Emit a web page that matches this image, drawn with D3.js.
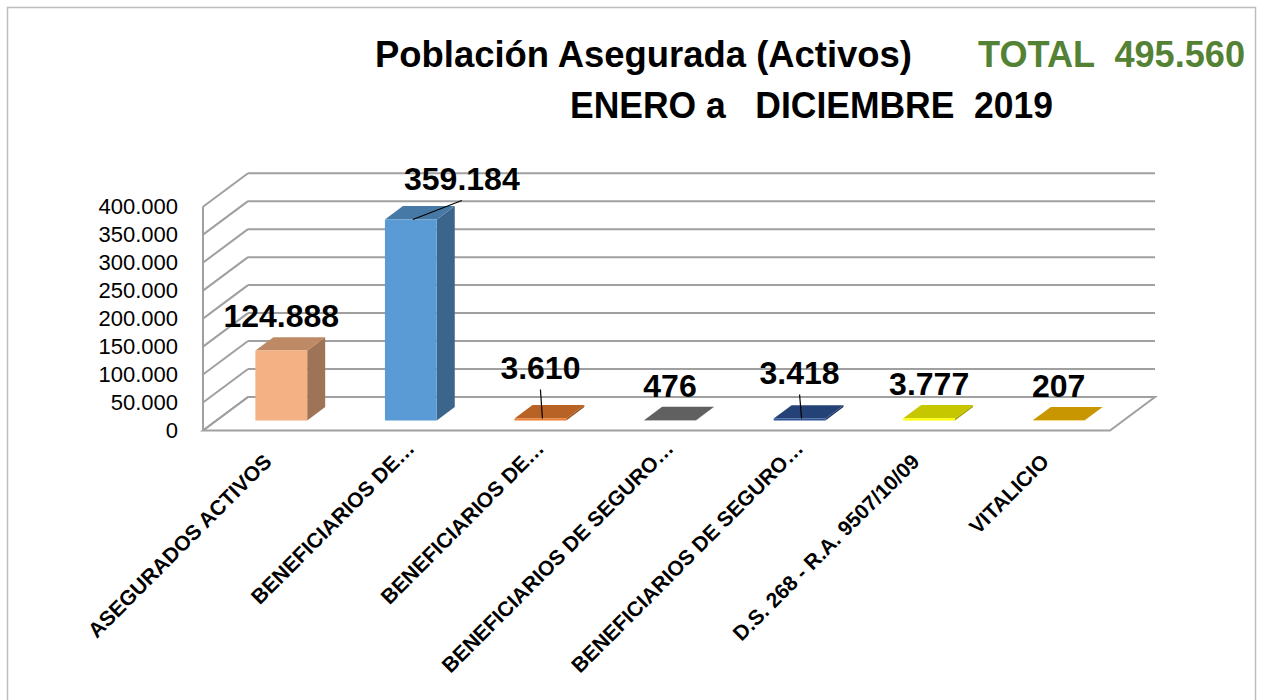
<!DOCTYPE html>
<html>
<head>
<meta charset="utf-8">
<script src="https://cdn.jsdelivr.net/npm/d3@7"></script>
<style>
  body { margin: 0; background: #fff; }
  svg { display: block; }
</style>
</head>
<body>
<svg id="chart"></svg>
<script>
// chart data
var categories = ["ASEGURADOS ACTIVOS", "BENEFICIARIOS DE…", "BENEFICIARIOS DE…",
    "BENEFICIARIOS DE SEGURO…", "BENEFICIARIOS DE SEGURO…", "D.S. 268 - R.A. 9507/10/09", "VITALICIO"];
var values = [124888, 359184, 3610, 476, 3418, 3777, 207];
var barColors = ["#F4B183", "#5B9BD5", "#ED7D31", "#7B7B7B", "#2F5597", "#FFFF00", "#FFC000"];
var yTicks = [0, 50000, 100000, 150000, 200000, 250000, 300000, 350000, 400000];
var titleLine1 = "Población Asegurada (Activos)";
var titleLine2 = "ENERO a   DICIEMBRE  2019";

var svgWidth = 1263, svgHeight = 700;
var left = 203, right = 1110, base = 430.5, top400 = 206.7;
var depthX = 45, depthY = 33.5;   // 3d offset of the back wall
var z0 = 0.3, z1 = 0.7;           // depth range of the bars
var font = "'Liberation Sans', Arial, sans-serif";
var gridColor = "#a0a0a0";

// labels moved by hand in the original (with leader line)
var labelNudge = { 1: [51, -6], 2: [0, -16], 4: [0, -11] };

var fmt = d3.formatLocale({ decimal: ",", thousands: ".", grouping: [3], currency: ["", ""] }).format(",d");

var svg = d3.select("#chart")
    .attr("width", svgWidth)
    .attr("height", svgHeight);

svg.append("rect")
    .attr("width", "100%")
    .attr("height", "100%")
    .attr("fill", "white");

svg.append("rect")
    .attr("x", 7.5).attr("y", 7.5)
    .attr("width", 1248).attr("height", 720)
    .attr("fill", "none")
    .attr("stroke", "#bdbdbd")
    .attr("stroke-width", 1.5);

var x = d3.scaleBand().domain(d3.range(categories.length))
    .range([left, right]).paddingInner(0.6).paddingOuter(0.3);
var y = d3.scaleLinear().domain([0, 400000]).range([base, top400]);

function proj(px, py, z) { return [px + z * depthX, py - z * depthY]; }
function poly(pts) { return "M" + pts.map(function (p) { return p[0] + "," + p[1]; }).join("L") + "Z"; }
function shade(c, k) {
    var r = d3.rgb(c);
    return d3.rgb(r.r * k, r.g * k, r.b * k).formatHex();
}

var g = svg.append("g");

// floor
g.append("path")
    .attr("d", poly([proj(left, base, 0), proj(right, base, 0), proj(right, base, 1), proj(left, base, 1)]))
    .attr("fill", "white")
    .attr("stroke", gridColor)
    .attr("stroke-width", 2);

// back wall grid and side wall diagonals
yTicks.forEach(function (t) {
    var b = proj(left, y(t), 1), e = proj(right, y(t), 1);
    g.append("line")
        .attr("x1", b[0]).attr("y1", b[1]).attr("x2", e[0]).attr("y2", e[1])
        .attr("stroke", gridColor).attr("stroke-width", 2);
    g.append("line")
        .attr("x1", left).attr("y1", y(t)).attr("x2", b[0]).attr("y2", b[1])
        .attr("stroke", gridColor).attr("stroke-width", 2);
});
g.append("line")
    .attr("x1", left).attr("y1", y(0)).attr("x2", left).attr("y2", y(400000))
    .attr("stroke", gridColor).attr("stroke-width", 2);

// y axis
var yAxis = g.append("g")
    .attr("transform", "translate(178,0)")
    .call(d3.axisLeft(y).tickValues(yTicks).tickSize(0).tickPadding(0).tickFormat(fmt));
yAxis.select(".domain").remove();
yAxis.selectAll("text")
    .attr("font-family", font)
    .attr("font-size", 22)
    .attr("fill", "#000");

// x axis
var xAxis = g.append("g")
    .attr("transform", "translate(0," + base + ")")
    .call(d3.axisBottom(x).tickSize(0).tickFormat(function (i) { return categories[i]; }));
xAxis.select(".domain").remove();
xAxis.selectAll("text")
    .attr("font-family", font)
    .attr("font-size", 21)
    .attr("font-weight", "bold")
    .attr("fill", "#000")
    .attr("text-anchor", "end")
    .attr("y", 0).attr("dy", 0)
    .attr("x", function (i) { return categories[i].slice(-1) === "…" ? 19 : 0; })
    .attr("transform", "translate(5,32.5) rotate(-45)");

// bars
var bars = g.selectAll(".bar").data(values).enter().append("g").attr("class", "bar");
bars.each(function (v, i) {
    var x0 = x(i), x1 = x(i) + x.bandwidth(), c = barColors[i];
    var sel = d3.select(this);
    sel.append("path")
        .attr("d", poly([proj(x1, y(v), z0), proj(x1, y(v), z1), proj(x1, y(0), z1), proj(x1, y(0), z0)]))
        .attr("fill", shade(c, 0.65));
    sel.append("path")
        .attr("d", poly([proj(x0, y(v), z0), proj(x1, y(v), z0), proj(x1, y(v), z1), proj(x0, y(v), z1)]))
        .attr("fill", shade(c, 0.78));
    sel.append("path")
        .attr("d", poly([proj(x0, y(v), z0), proj(x1, y(v), z0), proj(x1, y(0), z0), proj(x0, y(0), z0)]))
        .attr("fill", c);
});

// data labels
values.forEach(function (v, i) {
    var fx = x(i) + x.bandwidth() / 2 + z0 * depthX;
    var fTop = y(v) - z0 * depthY;
    var n = labelNudge[i] || [0, 0];
    var lx = fx + n[0], ly = fTop - 35 + n[1];
    if (labelNudge[i]) {
        g.append("line")
            .attr("x1", fx + 2).attr("y1", fTop)
            .attr("x2", lx).attr("y2", ly + 22)
            .attr("stroke", "#000").attr("stroke-width", 1.2);
    }
    g.append("text")
        .attr("x", lx).attr("y", ly + 11.5)
        .attr("text-anchor", "middle")
        .attr("font-family", font)
        .attr("font-size", 32)
        .attr("font-weight", "bold")
        .attr("fill", "#000")
        .text(fmt(v));
});

// titles
var title = svg.append("g")
    .attr("font-family", font)
    .attr("font-size", 37)
    .attr("font-weight", "bold");
title.append("text")
    .attr("xml:space", "preserve")
    .attr("x", 375).attr("y", 67)
    .attr("textLength", 537).attr("lengthAdjust", "spacingAndGlyphs")
    .attr("fill", "#000")
    .text(titleLine1);
title.append("text")
    .attr("xml:space", "preserve")
    .attr("x", 978).attr("y", 67)
    .attr("textLength", 267).attr("lengthAdjust", "spacingAndGlyphs")
    .attr("fill", "#548235")
    .text("TOTAL  " + fmt(d3.sum(values)));
title.append("text")
    .attr("xml:space", "preserve")
    .attr("x", 570).attr("y", 118)
    .attr("textLength", 483).attr("lengthAdjust", "spacingAndGlyphs")
    .attr("fill", "#000")
    .text(titleLine2);
</script>
</body>
</html>
